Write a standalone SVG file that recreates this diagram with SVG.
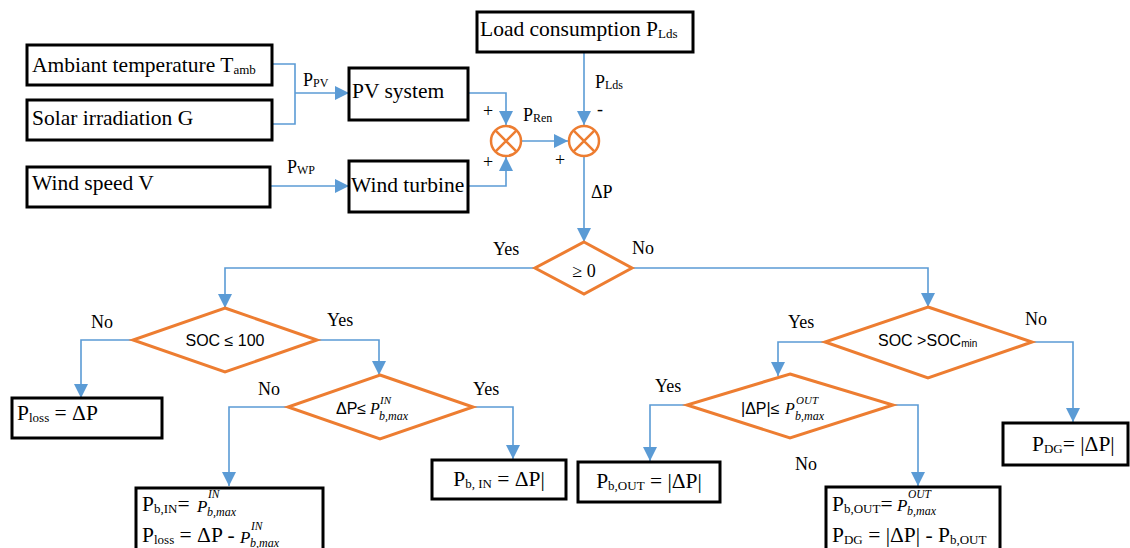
<svg xmlns="http://www.w3.org/2000/svg" width="1130" height="548" viewBox="0 0 1130 548">
<style>
.box{fill:#fff;stroke:#000;stroke-width:3}
.dia{fill:#fff;stroke:#ED7D31;stroke-width:3;stroke-linejoin:miter}
.sum{fill:#fff;stroke:#ED7D31;stroke-width:2.5}
.con{fill:none;stroke:#5B9BD5;stroke-width:1.6}
.t{font-family:"Liberation Serif","Times New Roman",serif;font-size:21.5px;fill:#000}
.lbl{font-family:"Liberation Serif","Times New Roman",serif;font-size:18px;fill:#000}
.sans{font-family:"Liberation Sans",Arial,sans-serif;font-size:16px;fill:#000}
.mi{font-family:"Liberation Serif","Times New Roman",serif;font-style:italic;fill:#000}
.sub{font-size:13px}
.sm{font-size:12px}
</style>
<defs>
<marker id="arr" viewBox="0 0 14 14" refX="14" refY="7" markerWidth="14" markerHeight="14" markerUnits="userSpaceOnUse" orient="auto">
<path d="M0,0 L14,7 L0,14 z" fill="#5B9BD5"/>
</marker>
</defs>

<g id="connectors">
<path class="con" d="M272,64 H295 V124 H272"/>
<path class="con" d="M295,93 H349" marker-end="url(#arr)"/>
<path class="con" d="M270,186 H349" marker-end="url(#arr)"/>
<path class="con" d="M468,93 H506 V125" marker-end="url(#arr)"/>
<path class="con" d="M468,186 H506 V157" marker-end="url(#arr)"/>
<path class="con" d="M521,141 H568" marker-end="url(#arr)"/>
<path class="con" d="M584,52 V125" marker-end="url(#arr)"/>
<path class="con" d="M584,157 V242" marker-end="url(#arr)"/>
<path class="con" d="M535,268 H225 V308" marker-end="url(#arr)"/>
<path class="con" d="M632,268 H928 V307" marker-end="url(#arr)"/>
<path class="con" d="M133,340 H81 V398" marker-end="url(#arr)"/>
<path class="con" d="M317,340 H379 V375" marker-end="url(#arr)"/>
<path class="con" d="M288,407 H229 V486" marker-end="url(#arr)"/>
<path class="con" d="M473,407 H513 V459" marker-end="url(#arr)"/>
<path class="con" d="M825,342 H778 V376" marker-end="url(#arr)"/>
<path class="con" d="M1032,342 H1073 V422" marker-end="url(#arr)"/>
<path class="con" d="M687,405 H650 V461" marker-end="url(#arr)"/>
<path class="con" d="M893,405 H918 V486" marker-end="url(#arr)"/>
</g>

<g id="conn-labels">
<text class="lbl" x="303" y="86" font-size="19">P<tspan font-size="12" dy="1">PV</tspan></text>
<text class="lbl" x="287" y="173" font-size="19">P<tspan font-size="12" dy="1">WP</tspan></text>
<text class="lbl" x="483" y="117" font-size="16">+</text>
<text class="lbl" x="483" y="168" font-size="16">+</text>
<text class="lbl" x="523" y="121" font-size="19">P<tspan font-size="12" dy="1">Ren</tspan></text>
<text class="lbl" x="595" y="88" font-size="19">P<tspan font-size="12" dy="1">Lds</tspan></text>
<text class="lbl" x="597" y="115" font-size="16">-</text>
<text class="lbl" x="555" y="166" font-size="16">+</text>
<text class="lbl" x="591" y="198" font-size="19">ΔP</text>
<text class="lbl" x="493" y="255">Yes</text>
<text class="lbl" x="632" y="254">No</text>
<text class="lbl" x="91" y="328">No</text>
<text class="lbl" x="327" y="326">Yes</text>
<text class="lbl" x="258" y="395">No</text>
<text class="lbl" x="473" y="395">Yes</text>
<text class="lbl" x="788" y="328">Yes</text>
<text class="lbl" x="1025" y="325">No</text>
<text class="lbl" x="655" y="392">Yes</text>
<text class="lbl" x="795" y="470">No</text>
</g>

<g id="n-ambiant">
<rect class="box" x="27" y="45" width="245" height="40"/>
<text class="t" x="32" y="72">Ambiant temperature T<tspan class="sub" dy="2">amb</tspan></text>
</g>
<g id="n-solar">
<rect class="box" x="27" y="100" width="245" height="40"/>
<text class="t" x="32" y="125">Solar irradiation G</text>
</g>
<g id="n-wind">
<rect class="box" x="27" y="167" width="243" height="40"/>
<text class="t" x="32" y="190">Wind speed V</text>
</g>
<g id="n-pv">
<rect class="box" x="349" y="68" width="119" height="52"/>
<text class="t" x="352" y="98">PV system</text>
</g>
<g id="n-turbine">
<rect class="box" x="349" y="161" width="119" height="51"/>
<text class="t" x="351" y="192">Wind turbine</text>
</g>
<g id="n-load">
<rect class="box" x="477" y="12" width="216" height="40"/>
<text class="t" x="480" y="36">Load consumption P<tspan class="sub" dy="2">Lds</tspan></text>
</g>
<g id="n-sum1">
<circle class="sum" cx="506" cy="141" r="15"/>
<path class="sum" d="M495.4,130.4 L516.6,151.6 M516.6,130.4 L495.4,151.6"/>
</g>
<g id="n-sum2">
<circle class="sum" cx="584" cy="141" r="15"/>
<path class="sum" d="M573.4,130.4 L594.6,151.6 M594.6,130.4 L573.4,151.6"/>
</g>

<g id="d-ge0">
<polygon class="dia" points="584,242 632,268 584,294 535,268"/>
<text class="lbl" x="584" y="277" font-size="20" text-anchor="middle">≥ 0</text>
</g>
<g id="d-soc100">
<polygon class="dia" points="225,308 317,340 225,372 133,340"/>
<text class="sans" x="225" y="346" text-anchor="middle">SOC ≤ 100</text>
</g>
<g id="d-dpin">
<polygon class="dia" points="380,375 473,407 380,439 288,407"/>
<text class="sans" x="336" y="414">ΔP≤</text>
<text class="mi" x="370" y="414" font-size="16">P</text>
<text class="mi" x="380" y="404" font-size="11">IN</text>
<text class="mi sm" x="379" y="420">b,max</text>
</g>
<g id="d-socmin">
<polygon class="dia" points="928,307 1032,342 928,378 825,342"/>
<text class="sans" x="878" y="346">SOC &gt;SOC<tspan font-size="10" dy="1">min</tspan></text>
</g>
<g id="d-dpout">
<polygon class="dia" points="790,374 893,405 790,438 687,405"/>
<text class="sans" x="741" y="414">|ΔP|≤</text>
<text class="mi" x="785" y="414" font-size="16">P</text>
<text class="mi" x="796" y="404" font-size="11">OUT</text>
<text class="mi sm" x="795" y="420">b,max</text>
</g>

<g id="n-ploss">
<rect class="box" x="12" y="398" width="150" height="40"/>
<text class="t" x="17" y="420">P<tspan class="sub" dy="2">loss</tspan><tspan dy="-2"> = ΔP</tspan></text>
</g>
<g id="n-pbin-max">
<rect class="box" x="136" y="488" width="187" height="72"/>
<text class="t" x="142" y="511">P<tspan class="sub" dy="2">b,IN</tspan><tspan dy="-2">=</tspan></text>
<text class="mi" x="197" y="512" font-size="17">P</text>
<text class="mi" x="208" y="498" font-size="11.5">IN</text>
<text class="mi sm" x="207" y="516">b,max</text>
<text class="t" x="142" y="542">P<tspan class="sub" dy="2">loss</tspan><tspan dy="-2"> = ΔP - </tspan></text>
<text class="mi" x="240" y="543" font-size="17">P</text>
<text class="mi" x="251" y="530" font-size="11.5">IN</text>
<text class="mi sm" x="250" y="547">b,max</text>
</g>
<g id="n-pbin">
<rect class="box" x="432" y="460" width="134" height="39"/>
<text class="t" x="499" y="486" text-anchor="middle">P<tspan class="sub" dy="2">b, IN</tspan><tspan dy="-2"> = ΔP|</tspan></text>
</g>
<g id="n-pbout">
<rect class="box" x="578" y="462" width="142" height="40"/>
<text class="t" x="649" y="488" text-anchor="middle">P<tspan class="sub" dy="2">b,OUT</tspan><tspan dy="-2"> = |ΔP|</tspan></text>
</g>
<g id="n-pbout-max">
<rect class="box" x="826" y="487" width="174" height="72"/>
<text class="t" x="832" y="511">P<tspan class="sub" dy="2">b,OUT</tspan><tspan dy="-2">=</tspan></text>
<text class="mi" x="897" y="511" font-size="17">P</text>
<text class="mi" x="908" y="498" font-size="11.5">OUT</text>
<text class="mi sm" x="907" y="515">b,max</text>
<text class="t" x="832" y="542">P<tspan class="sub" dy="2">DG</tspan><tspan dy="-2"> = |ΔP| - P</tspan><tspan class="sub" dy="2">b,OUT</tspan></text>
</g>
<g id="n-pdg">
<rect class="box" x="1003" y="423" width="125" height="42"/>
<text class="t" x="1032" y="451">P<tspan class="sub" dy="2">DG</tspan><tspan dy="-2">= |ΔP|</tspan></text>
</g>
</svg>
